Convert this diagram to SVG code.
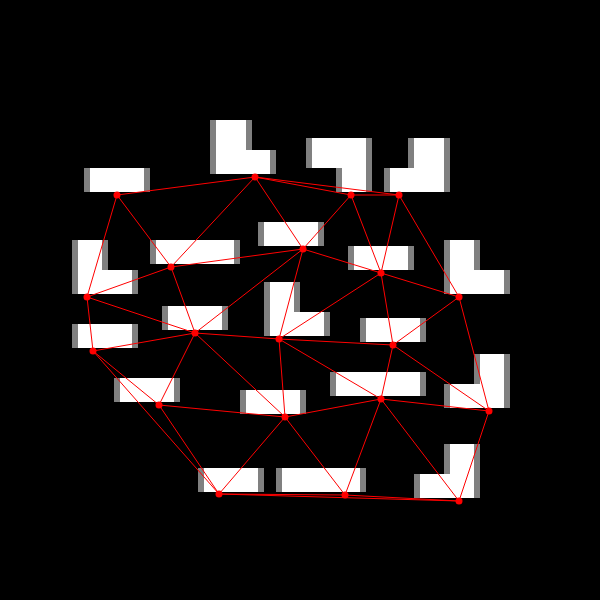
<svg xmlns="http://www.w3.org/2000/svg" xmlns:xlink="http://www.w3.org/1999/xlink" width="600" height="600" viewBox="0 0 600 600">
<style>
.sh{fill:#808080}
.wh{fill:#ffffff}
.e{stroke:#ff0000;stroke-width:1;fill:none}
.n{fill:#ff0000}
</style>
<defs>
<polygon id="pA" points="90,168 144,168 144,192 90,192"/>
<polygon id="pB" points="216,120 246,120 246,150 270,150 270,174 216,174"/>
<polygon id="pC" points="156,240 234,240 234,264 156,264"/>
<polygon id="pD" points="78,240 102,240 102,270 132,270 132,294 78,294"/>
<polygon id="pE" points="312,138 366,138 366,192 342,192 342,168 312,168"/>
<polygon id="pF" points="414,138 444,138 444,192 390,192 390,168 414,168"/>
<polygon id="pG" points="264,222 318,222 318,246 264,246"/>
<polygon id="pH" points="354,246 408,246 408,270 354,270"/>
<polygon id="pI" points="450,240 474,240 474,270 504,270 504,294 450,294"/>
<polygon id="pJ" points="78,324 132,324 132,348 78,348"/>
<polygon id="pK" points="168,306 222,306 222,330 168,330"/>
<polygon id="pL" points="270,282 294,282 294,312 324,312 324,336 270,336"/>
<polygon id="pM" points="366,318 420,318 420,342 366,342"/>
<polygon id="pN" points="120,378 174,378 174,402 120,402"/>
<polygon id="pO" points="246,390 300,390 300,414 246,414"/>
<polygon id="pP" points="336,372 420,372 420,396 336,396"/>
<polygon id="pQ" points="480,354 504,354 504,408 450,408 450,384 480,384"/>
<polygon id="pR" points="204,468 258,468 258,492 204,492"/>
<polygon id="pS" points="282,468 360,468 360,492 282,492"/>
<polygon id="pT" points="450,444 474,444 474,498 420,498 420,474 450,474"/>
</defs>
<rect x="0" y="0" width="600" height="600" fill="#000000"/>
<g id="shapes">
<g id="shapeA"><use href="#pA" class="sh" x="-6"/><use href="#pA" class="sh" x="6"/><use href="#pA" class="wh"/></g>
<g id="shapeB"><use href="#pB" class="sh" x="-6"/><use href="#pB" class="sh" x="6"/><use href="#pB" class="wh"/></g>
<g id="shapeC"><use href="#pC" class="sh" x="-6"/><use href="#pC" class="sh" x="6"/><use href="#pC" class="wh"/></g>
<g id="shapeD"><use href="#pD" class="sh" x="-6"/><use href="#pD" class="sh" x="6"/><use href="#pD" class="wh"/></g>
<g id="shapeE"><use href="#pE" class="sh" x="-6"/><use href="#pE" class="sh" x="6"/><use href="#pE" class="wh"/></g>
<g id="shapeF"><use href="#pF" class="sh" x="-6"/><use href="#pF" class="sh" x="6"/><use href="#pF" class="wh"/></g>
<g id="shapeG"><use href="#pG" class="sh" x="-6"/><use href="#pG" class="sh" x="6"/><use href="#pG" class="wh"/></g>
<g id="shapeH"><use href="#pH" class="sh" x="-6"/><use href="#pH" class="sh" x="6"/><use href="#pH" class="wh"/></g>
<g id="shapeI"><use href="#pI" class="sh" x="-6"/><use href="#pI" class="sh" x="6"/><use href="#pI" class="wh"/></g>
<g id="shapeJ"><use href="#pJ" class="sh" x="-6"/><use href="#pJ" class="sh" x="6"/><use href="#pJ" class="wh"/></g>
<g id="shapeK"><use href="#pK" class="sh" x="-6"/><use href="#pK" class="sh" x="6"/><use href="#pK" class="wh"/></g>
<g id="shapeL"><use href="#pL" class="sh" x="-6"/><use href="#pL" class="sh" x="6"/><use href="#pL" class="wh"/></g>
<g id="shapeM"><use href="#pM" class="sh" x="-6"/><use href="#pM" class="sh" x="6"/><use href="#pM" class="wh"/></g>
<g id="shapeN"><use href="#pN" class="sh" x="-6"/><use href="#pN" class="sh" x="6"/><use href="#pN" class="wh"/></g>
<g id="shapeO"><use href="#pO" class="sh" x="-6"/><use href="#pO" class="sh" x="6"/><use href="#pO" class="wh"/></g>
<g id="shapeP"><use href="#pP" class="sh" x="-6"/><use href="#pP" class="sh" x="6"/><use href="#pP" class="wh"/></g>
<g id="shapeQ"><use href="#pQ" class="sh" x="-6"/><use href="#pQ" class="sh" x="6"/><use href="#pQ" class="wh"/></g>
<g id="shapeR"><use href="#pR" class="sh" x="-6"/><use href="#pR" class="sh" x="6"/><use href="#pR" class="wh"/></g>
<g id="shapeS"><use href="#pS" class="sh" x="-6"/><use href="#pS" class="sh" x="6"/><use href="#pS" class="wh"/></g>
<g id="shapeT"><use href="#pT" class="sh" x="-6"/><use href="#pT" class="sh" x="6"/><use href="#pT" class="wh"/></g>
</g>
<g id="connectors" class="e">
<line x1="117" y1="195" x2="255" y2="177"/>
<line x1="117" y1="195" x2="87" y2="297"/>
<line x1="117" y1="195" x2="171" y2="267"/>
<line x1="255" y1="177" x2="351" y2="195"/>
<line x1="255" y1="177" x2="399" y2="195"/>
<line x1="351" y1="195" x2="399" y2="195"/>
<line x1="255" y1="177" x2="171" y2="267"/>
<line x1="255" y1="177" x2="303" y2="249"/>
<line x1="351" y1="195" x2="303" y2="249"/>
<line x1="351" y1="195" x2="381" y2="273"/>
<line x1="399" y1="195" x2="381" y2="273"/>
<line x1="399" y1="195" x2="459" y2="297"/>
<line x1="303" y1="249" x2="171" y2="267"/>
<line x1="303" y1="249" x2="381" y2="273"/>
<line x1="303" y1="249" x2="195" y2="333"/>
<line x1="303" y1="249" x2="279" y2="339"/>
<line x1="171" y1="267" x2="87" y2="297"/>
<line x1="171" y1="267" x2="195" y2="333"/>
<line x1="87" y1="297" x2="93" y2="351"/>
<line x1="87" y1="297" x2="195" y2="333"/>
<line x1="195" y1="333" x2="93" y2="351"/>
<line x1="195" y1="333" x2="159" y2="405"/>
<line x1="195" y1="333" x2="279" y2="339"/>
<line x1="195" y1="333" x2="285" y2="417"/>
<line x1="93" y1="351" x2="159" y2="405"/>
<line x1="93" y1="351" x2="219" y2="494"/>
<line x1="159" y1="405" x2="285" y2="417"/>
<line x1="159" y1="405" x2="219" y2="494"/>
<line x1="279" y1="339" x2="285" y2="417"/>
<line x1="279" y1="339" x2="393" y2="345"/>
<line x1="279" y1="339" x2="381" y2="273"/>
<line x1="279" y1="339" x2="381" y2="399"/>
<line x1="381" y1="273" x2="393" y2="345"/>
<line x1="381" y1="273" x2="459" y2="297"/>
<line x1="459" y1="297" x2="393" y2="345"/>
<line x1="459" y1="297" x2="489" y2="411"/>
<line x1="393" y1="345" x2="381" y2="399"/>
<line x1="393" y1="345" x2="489" y2="411"/>
<line x1="285" y1="417" x2="381" y2="399"/>
<line x1="381" y1="399" x2="489" y2="411"/>
<line x1="381" y1="399" x2="345" y2="495"/>
<line x1="381" y1="399" x2="459" y2="501"/>
<line x1="489" y1="411" x2="459" y2="501"/>
<line x1="285" y1="417" x2="345" y2="495"/>
<line x1="285" y1="417" x2="219" y2="494"/>
<line x1="219" y1="494" x2="345" y2="495"/>
<line x1="345" y1="495" x2="459" y2="501"/>
<line x1="219" y1="494" x2="459" y2="501"/>
</g>
<g id="nodes" class="n">
<g id="n1"><circle cx="117" cy="195" r="3.5"/></g>
<g id="n2"><circle cx="255" cy="177" r="3.5"/></g>
<g id="n3"><circle cx="351" cy="195" r="3.5"/></g>
<g id="n4"><circle cx="399" cy="195" r="3.5"/></g>
<g id="n5"><circle cx="303" cy="249" r="3.5"/></g>
<g id="n6"><circle cx="171" cy="267" r="3.5"/></g>
<g id="n7"><circle cx="381" cy="273" r="3.5"/></g>
<g id="n8"><circle cx="87" cy="297" r="3.5"/></g>
<g id="n9"><circle cx="459" cy="297" r="3.5"/></g>
<g id="n10"><circle cx="195" cy="333" r="3.5"/></g>
<g id="n11"><circle cx="279" cy="339" r="3.5"/></g>
<g id="n12"><circle cx="393" cy="345" r="3.5"/></g>
<g id="n13"><circle cx="93" cy="351" r="3.5"/></g>
<g id="n14"><circle cx="159" cy="405" r="3.5"/></g>
<g id="n15"><circle cx="285" cy="417" r="3.5"/></g>
<g id="n16"><circle cx="381" cy="399" r="3.5"/></g>
<g id="n17"><circle cx="489" cy="411" r="3.5"/></g>
<g id="n18"><circle cx="219" cy="494" r="3.5"/></g>
<g id="n19"><circle cx="345" cy="495" r="3.5"/></g>
<g id="n20"><circle cx="459" cy="501" r="3.5"/></g>
</g>
</svg>
